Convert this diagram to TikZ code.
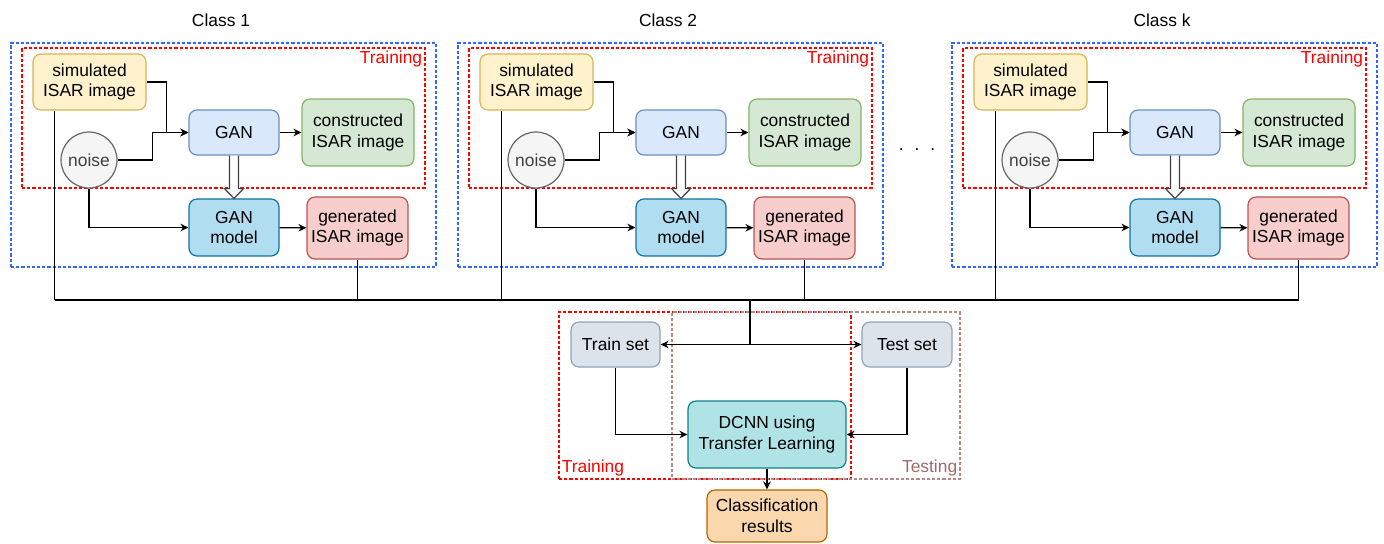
\documentclass[tikz,border=0pt]{standalone}
\usepackage{fontspec}
\setmainfont{Liberation Sans}
\usetikzlibrary{positioning,calc,arrows.meta}

\definecolor{simfill}{HTML}{FFF2CC}   \definecolor{simline}{HTML}{D6B656}
\definecolor{noisefill}{HTML}{F5F5F5} \definecolor{noiseline}{HTML}{666666}
\definecolor{ganfill}{HTML}{DAE8FC}   \definecolor{ganline}{HTML}{6C8EBF}
\definecolor{consfill}{HTML}{D5E8D4}  \definecolor{consline}{HTML}{82B366}
\definecolor{modelfill}{HTML}{B1DDF0} \definecolor{modelline}{HTML}{10739E}
\definecolor{genfill}{HTML}{F8CECC}   \definecolor{genline}{HTML}{B85450}
\definecolor{setfill}{HTML}{DDE3EA}   \definecolor{setline}{HTML}{8FA3B5}
\definecolor{dcnnfill}{HTML}{B0E3E6}  \definecolor{dcnnline}{HTML}{0E8088}
\definecolor{resfill}{HTML}{FAD7AC}   \definecolor{resline}{HTML}{B46504}
\definecolor{framered}{HTML}{FF0000}  \definecolor{frameblue}{HTML}{3366FF}
\definecolor{testcol}{HTML}{9E6B6B}

\tikzset{
    every node/.style={font=\fontsize{8.7}{10.4}\selectfont},
    box/.style={draw, rounded corners=4pt, align=center, inner sep=0pt, line width=0.6pt},
    frame/.style={draw, dash pattern=on 1.6pt off 1pt, line width=0.55pt, inner sep=0pt},
    arr/.style={draw, line width=0.6pt, -{Stealth[length=4pt,width=3.8pt]}},
    wire/.style={draw, line width=0.6pt},
    hollow/.style={draw=black!75, fill=white, line width=0.6pt}
}

\begin{document}
\begin{tikzpicture}[x=0.5pt,y=-0.5pt]
    \useasboundingbox (0,0) rectangle (1384,543);

    % one block per class
    \foreach \i/\dx in {1/0, 2/447, k/941} {
        \begin{scope}[shift={(\dx,0)}]
            \node (class\i) at (221,20) {Class \i};

            % frames
            \node[frame, draw=frameblue, minimum width=212.5pt, minimum height=112pt] (blue\i) at (223.5,155) {};
            \node[frame, draw=framered, minimum width=201.5pt, minimum height=70pt] (red\i) at (223.5,118) {};
            \node[anchor=north east, inner sep=1.5pt, text=framered] (tlab\i) at (red\i.north east) {Training};

            % boxes
            \node[box, fill=simfill, draw=simline, minimum width=56.5pt, minimum height=28pt] (sim\i) at (89.5,82) {simulated\\ISAR image};
            \node[box, circle, rounded corners=0pt, fill=noisefill, draw=noiseline, text=black!75, minimum size=28pt] (noise\i) at (89,160) {noise};
            \node[box, fill=ganfill, draw=ganline, minimum width=45pt, minimum height=22.5pt] (gan\i) at (234,132.5) {GAN};
            \node[box, fill=consfill, draw=consline, minimum width=56pt, minimum height=33.5pt] (cons\i) at (358,132.5) {constructed\\ISAR image};
            \node[box, fill=modelfill, draw=modelline, minimum width=45pt, minimum height=28.5pt] (model\i) at (234,227.5) {GAN\\model};
            \node[box, fill=genfill, draw=genline, minimum width=50.5pt, minimum height=31pt] (gen\i) at (357.5,228) {generated\\ISAR image};

            % connectors
            \draw[arr] (sim\i.east) -| ($(gan\i.west)+(-22,0)$) -- (gan\i.west);
            \draw[arr] (noise\i.east) -| ($(gan\i.west)+(-36,0)$) -- (gan\i.west);
            \draw[arr] (gan\i) -- (cons\i);
            \draw[arr] (noise\i.south) |- (model\i.west);
            \draw[arr] (model\i) -- (gen\i);
            \draw[hollow] ($(gan\i.south)+(-4.5,0)$) -- ($(gan\i.south)+(-4.5,33)$)
                -- ($(gan\i.south)+(-9.5,33)$) -- (model\i.north)
                -- ($(gan\i.south)+(9.5,33)$) -- ($(gan\i.south)+(4.5,33)$)
                -- ($(gan\i.south)+(4.5,0)$);
            \coordinate (simout\i) at ($(sim\i.south west)+(22,0)$);
        \end{scope}
    }

    \node (dots) at (917,150) {.\hspace{5.5pt}.\hspace{5.5pt}.};

    % collecting line
    \coordinate (busL) at (55,300);
    \coordinate (busR) at (1298.5,300);
    \draw[wire] (busL) -- (busR);
    \foreach \i in {1,2,k} {
        \draw[wire] (simout\i) -- (simout\i |- busL);
        \draw[wire] (gen\i.south) -- (gen\i.south |- busL);
    }

    % classification part
    \node[frame, draw=framered, minimum width=146pt, minimum height=83.5pt] (trainfr) at (705,395.5) {};
    \node[frame, draw=testcol!80, minimum width=144pt, minimum height=83.5pt] (testfr) at (816,395.5) {};
    \node[anchor=south west, inner sep=1.5pt, text=framered] (trlab) at (trainfr.south west) {Training};
    \node[anchor=south east, inner sep=1.5pt, text=testcol] (telab) at (testfr.south east) {Testing};

    \node[box, fill=setfill, draw=setline, minimum width=44.5pt, minimum height=22.5pt] (train) at (615.5,344.5) {Train set};
    \node[box, fill=setfill, draw=setline, minimum width=45pt, minimum height=22.5pt] (test) at (907,344.5) {Test set};
    \node[box, fill=dcnnfill, draw=dcnnline, minimum width=79pt, minimum height=33.5pt] (dcnn) at (767,434.5) {DCNN using\\Transfer Learning};
    \node[box, fill=resfill, draw=resline, minimum width=60pt, minimum height=26pt] (result) at (767,516) {Classification\\results};

    \coordinate (split) at (750,344.5);
    \draw[wire] (split |- busL) -- (split);
    \draw[arr] (split) -- (train.east);
    \draw[arr] (split) -- (test.west);
    \draw[arr] (train.south) |- (dcnn.west);
    \draw[arr] (test.south) |- (dcnn.east);
    \draw[arr] (dcnn) -- (result);
\end{tikzpicture}
\end{document}
